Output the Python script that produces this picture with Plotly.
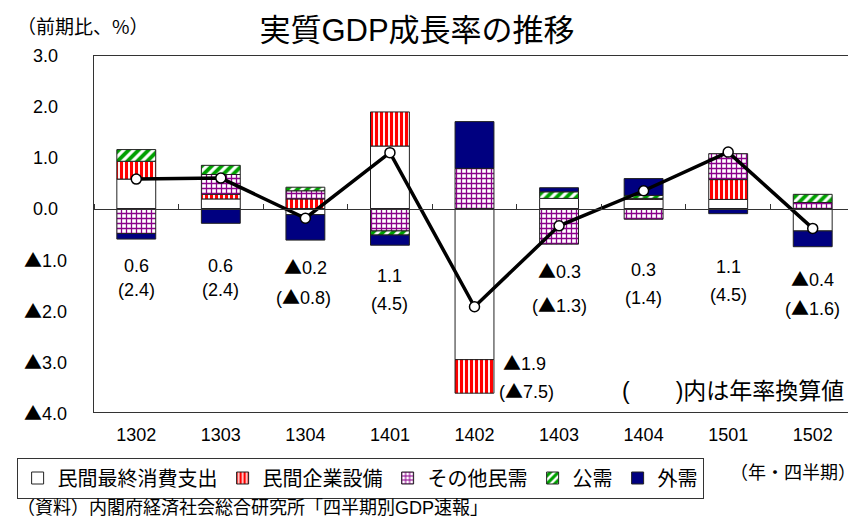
import plotly.graph_objects as go

# ---------------- data ----------------
quarters = ['1302', '1303', '1304', '1401', '1402', '1403', '1404', '1501', '1502']
consumption = [0.58, 0.19, -0.12, 1.23, -2.97, 0.20, 0.18, 0.18, -0.44]
investment = [0.35, 0.09, 0.19, 0.67, -0.66, None, 0.02, 0.39, None]
other_private = [-0.49, 0.39, 0.16, -0.44, 0.79, -0.70, -0.21, 0.51, 0.12]
public_demand = [0.23, 0.18, 0.07, -0.08, None, 0.13, 0.06, None, 0.16]
external = [-0.11, -0.29, -0.50, -0.20, 0.92, 0.08, 0.33, -0.10, -0.31]
gdp_growth = [0.58, 0.60, -0.19, 1.10, -1.93, -0.34, 0.35, 1.11, -0.39]
gdp_label = [0.6, 0.6, -0.2, 1.1, -1.9, -0.3, 0.3, 1.1, -0.4]
annualized = [2.4, 2.4, -0.8, 4.5, -7.5, -1.3, 1.4, 4.5, -1.6]
series_names = ['民間最終消費支出', '民間企業設備', 'その他民需', '公需', '外需']
ytick_vals = [3, 2, 1, 0, -1, -2, -3, -4]

# ---------------- style ----------------
FONT = 'Liberation Sans, Arial, Noto Sans CJK JP'
CJK = 'Noto Sans CJK JP'
W, H = 856, 517
ML, MR, MT, MB = 80, 9, 48, 113
XRANGE = [-0.5, len(quarters) - 0.5]
TRI = '<span style="font-family:\'Noto Sans CJK JP\'">▲</span>'


def fmt(v):
    return (TRI if v < 0 else '') + f'{abs(v):.1f}'


series_values = [consumption, investment, other_private, public_demand, external]
series_style = [
    dict(color='white'),
    dict(color='white', pattern=dict(shape='|', fgcolor='#FF0000', bgcolor='white', size=5,
                                     solidity=0.62, fgopacity=1)),
    dict(color='white', pattern=dict(shape='+', fgcolor='#8B008B', bgcolor='white', size=5,
                                     solidity=0.45, fgopacity=1)),
    dict(color='white', pattern=dict(shape='/', fgcolor='#00A000', bgcolor='white', size=7,
                                     solidity=0.55, fgopacity=1)),
    dict(color='#000080'),
]

fig = go.Figure()
for name, vals, st in zip(series_names, series_values, series_style):
    fig.add_trace(go.Bar(
        x=quarters, y=vals, name=name, width=0.46,
        marker=dict(line=dict(color='#222222', width=1), **st),
    ))

fig.add_trace(go.Scatter(
    x=quarters, y=gdp_growth, mode='lines+markers', showlegend=False,
    line=dict(color='black', width=3.5),
    marker=dict(symbol='circle', size=10, color='white', line=dict(color='black', width=1.5)),
))

# invisible trace carrying the zero-line axis (with category boundary ticks)
fig.add_trace(go.Scatter(x=quarters, y=[0] * len(quarters), xaxis='x2', mode='markers',
                         marker=dict(opacity=0), showlegend=False, hoverinfo='skip'))

# value labels (positions are layout choices: data-unit heights and pixel shifts)
label_y = [(-1.12, -1.61), (-1.12, -1.61), (-1.12, -1.71), (-1.32, -1.87), (-3.01, -3.56),
           (-1.20, -1.87), (-1.20, -1.75), (-1.14, -1.69), (-1.36, -1.93)]
label_dx = [(0, 0), (0, 0), (0, -2), (0, 0), (26, 22), (0, 0), (0, 0), (0, 0), (0, 0)]
label_anchor = ['center'] * 4 + ['left'] + ['center'] * 4
annotations = []
for i, (g, a, (y1, y2), (d1, d2), anc) in enumerate(zip(gdp_label, annualized, label_y, label_dx, label_anchor)):
    annotations.append(dict(x=i, y=y1, xref='x', yref='y', text=fmt(g), showarrow=False,
                            xshift=d1, xanchor=anc, font=dict(size=18, family=FONT, color='black')))
    annotations.append(dict(x=i, y=y2, xref='x', yref='y', text='(' + fmt(a) + ')', showarrow=False,
                            xshift=d2, xanchor=anc, font=dict(size=18, family=FONT, color='black')))

PW, PH = W - ML - MR, H - MT - MB


def px(xp):
    return (xp - ML) / PW


def py(yp):
    return (H - MB - yp) / PH


# y tick labels (centered, as in the original)
for v in ytick_vals:
    annotations.append(dict(x=px(31), y=v, xref='paper', yref='y',
                            text=fmt(v), showarrow=False, xanchor='center',
                            font=dict(size=18, family=FONT, color='black')))

annotations += [
    dict(x=px(0), y=py(18), xref='paper', yref='paper', xanchor='left', yanchor='middle',
         text='（前期比、%）', showarrow=False, font=dict(size=19, family=CJK, color='black')),
    dict(x=px(838), y=py(383), xref='paper', yref='paper', xanchor='right', yanchor='middle',
         text='(　　)内は年率換算値', showarrow=False, font=dict(size=23, family=FONT, color='black')),
    dict(x=px(850), y=py(463), xref='paper', yref='paper', xanchor='right', yanchor='middle',
         text='（年・四半期）', showarrow=False, font=dict(size=18, family=CJK, color='black')),
    dict(x=px(0), y=py(500), xref='paper', yref='paper', xanchor='left', yanchor='middle',
         text='（資料）内閣府経済社会総合研究所「四半期別GDP速報」', showarrow=False,
         font=dict(size=18, family=FONT, color='black')),
]

fig.update_layout(
    width=W, height=H,
    margin=dict(l=ML, r=MR, t=MT, b=MB),
    paper_bgcolor='white', plot_bgcolor='white',
    barmode='relative',
    font=dict(family=FONT, size=18, color='black'),
    title=dict(text='実質GDP成長率の推移', x=409 / W, xref='container', xanchor='center',
               y=1 - 22 / H, yref='container', yanchor='middle',
               font=dict(size=31, family=FONT, color='black')),
    xaxis=dict(type='category', categoryorder='array', categoryarray=quarters, range=XRANGE,
               showline=True, mirror=True, linecolor='#333333', linewidth=1,
               ticks='', showgrid=False, zeroline=False,
               tickfont=dict(size=18, family=FONT, color='black'), ticklabelstandoff=6),
    xaxis2=dict(type='category', categoryorder='array', categoryarray=quarters, range=XRANGE,
                overlaying='x', anchor='free', position=4 / 7, side='top',
                showline=True, linecolor='#333333', linewidth=1,
                tickson='boundaries', ticks='outside', ticklen=5, tickcolor='#333333',
                showticklabels=False, showgrid=False, zeroline=False),
    yaxis=dict(range=[-4, 3], showline=True, mirror=True, linecolor='#333333', linewidth=1,
               showticklabels=False, ticks='', showgrid=False, zeroline=False),
    legend=dict(orientation='h', x=px(2), xanchor='left', y=py(470), yanchor='middle',
                bordercolor='#333333', borderwidth=1, bgcolor='white',
                font=dict(size=20, family=FONT, color='black'), traceorder='normal'),
    annotations=annotations,
    showlegend=True,
)

fig.write_html('out.html')
